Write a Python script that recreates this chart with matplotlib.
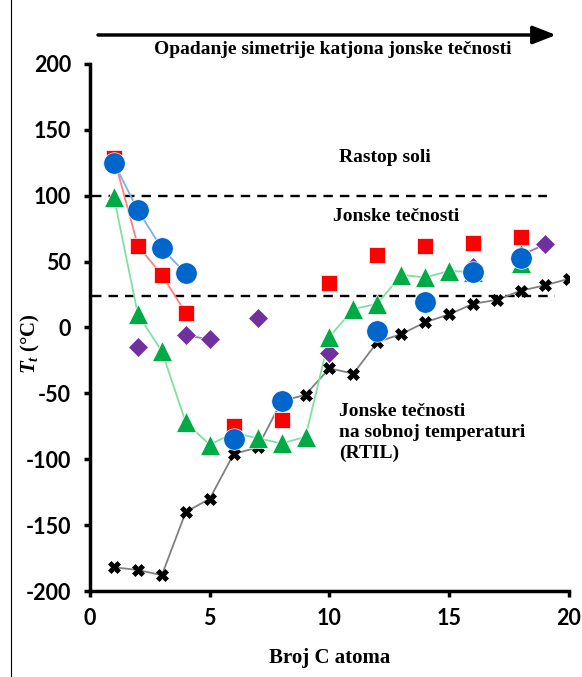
import matplotlib.pyplot as plt
from matplotlib.lines import Line2D

plt.rcParams["mathtext.fontset"] = "custom"
plt.rcParams["mathtext.it"] = "Liberation Serif:italic:bold"
plt.rcParams["mathtext.bf"] = "Liberation Serif:bold"
plt.rcParams["mathtext.rm"] = "Liberation Serif:bold"

# podaci (procenjeni sa slike)
red_x = [1, 2, 3, 4, 6, 8, 10, 12, 14, 16, 18]
red_y = [129, 62, 40, 11, -75, -70, 34, 55, 62, 64, 69]

blue_x = [1, 2, 3, 4, 6, 8, 12, 14, 16, 18]
blue_y = [125, 89, 60, 41, -85, -56, -3, 19, 42, 53]

green_x = [1, 2, 3, 4, 5, 6, 7, 8, 9, 10, 11, 12, 13, 14, 15, 16, 18]
green_y = [99, 10, -18, -72, -89, -80, -84, -88, -83, -7, 14, 18, 40, 38, 43, 42, 49]

purple_x = [2, 4, 5, 7, 10, 16, 18, 19]
purple_y = [-15, -6, -9, 7, -19, 46, 55, 63]

black_x = [1, 2, 3, 4, 5, 6, 7, 8, 9, 10, 11, 12, 13, 14, 15, 16, 17, 18, 19, 20]
black_y = [-182, -184, -188, -140, -130, -96, -91, -56, -51, -31, -35, -11, -5, 4, 10, 18, 21, 28, 32, 37]

x_ticks = [0, 5, 10, 15, 20]
y_ticks = [-200, -150, -100, -50, 0, 50, 100, 150, 200]
line_salt = 100
line_rtil = 24

serif = "Liberation Serif"
sans = "Lato"

fig = plt.figure(figsize=(5.82, 6.77), dpi=100)
ax = fig.add_axes([0.1546, 0.127, 0.823, 0.7785])

# linije
ax.plot(black_x, black_y, color="#808080", lw=1.3, zorder=2)
ax.plot(green_x[:16], green_y[:16], color="#80e0a0", lw=1.3, zorder=2)
ax.plot(red_x[:4], red_y[:4], color="#ff8080", lw=1.3, zorder=2)
ax.plot(blue_x[:4], blue_y[:4], color="#80b0e0", lw=1.3, zorder=2)
ax.plot(purple_x[1:3], purple_y[1:3], color="#a070c0", lw=1.3, zorder=2)
ax.plot(purple_x[-2:], purple_y[-2:], color="#a070c0", lw=1.3, zorder=2)

# markeri
ax.plot(black_x, black_y, ls="none", marker="X", ms=8, color="black",
        mec="black", mew=0.5, zorder=3)
ax.plot(purple_x, purple_y, ls="none", marker="D", ms=10, color="#7030a0",
        mec="white", mew=0.5, zorder=4)
ax.plot(green_x, green_y, ls="none", marker="^", ms=15, color="#00aa44",
        mec="white", mew=0.5, zorder=5)
ax.plot(red_x, red_y, ls="none", marker="s", ms=12, color="#ff0000",
        mec="white", mew=0.5, zorder=6)
ax.plot(blue_x, blue_y, ls="none", marker="o", ms=15.5, color="#0066cc",
        mec="white", mew=0.5, zorder=7)

# isprekidane granice
ax.plot([0.1, 19.1], [line_salt, line_salt], ls=(0, (4, 3)), color="black", lw=1.7, zorder=1)
ax.plot([0.1, 19.4], [line_rtil, line_rtil], ls=(0, (4, 3)), color="black", lw=1.7, zorder=1)

ax.set_xlim(0, 20)
ax.set_ylim(-200, 200)
tick_font = dict(fontfamily=sans, fontweight="bold", fontsize=15.5)
ax.set_xticks(x_ticks, labels=[str(v) for v in x_ticks], **tick_font)
ax.set_yticks(y_ticks, labels=[str(v) for v in y_ticks], **tick_font)
for s in ["top", "right"]:
    ax.spines[s].set_visible(False)
for s in ["left", "bottom"]:
    ax.spines[s].set_linewidth(2.5)
ax.tick_params(width=2.5, length=4.5, direction="out")
ax.tick_params(axis="y", pad=9)
ax.tick_params(axis="x", pad=8)

ax.set_xlabel("Broj C atoma", fontfamily=serif, fontweight="bold", fontsize=15)
ax.xaxis.set_label_coords(0.5, -0.108)
ax.set_ylabel(r"$T_{t}$ (°C)", fontfamily=serif, fontweight="bold", fontsize=15)
ax.yaxis.set_label_coords(-0.1, 0.47)

txt = dict(fontfamily=serif, fontweight="bold", fontsize=14)
ax.text(10.4, 129, "Rastop soli", va="center", **txt)
ax.text(10.15, 84, "Jonske tečnosti", va="center", **txt)
ax.text(10.4, -57, "Jonske tečnosti\nna sobnoj temperaturi\n(RTIL)", va="top",
        linespacing=1.3, **txt)

# strelica i naslov
fig.add_artist(Line2D([11 / 582, 11 / 582], [0, 1], color="black", lw=0.8))
ax.annotate("", xy=(556 / 582, 1 - 35 / 677), xytext=(98 / 582, 1 - 35 / 677),
            xycoords="figure fraction",
            arrowprops=dict(arrowstyle="-|>,head_length=1.4,head_width=0.55",
                            color="black", lw=2.5, shrinkA=0, shrinkB=0))
fig.text(333 / 582, 1 - 50 / 677, "Opadanje simetrije katjona jonske tečnosti",
         ha="center", va="center", **txt)

fig.savefig("out.png", dpi=100)
